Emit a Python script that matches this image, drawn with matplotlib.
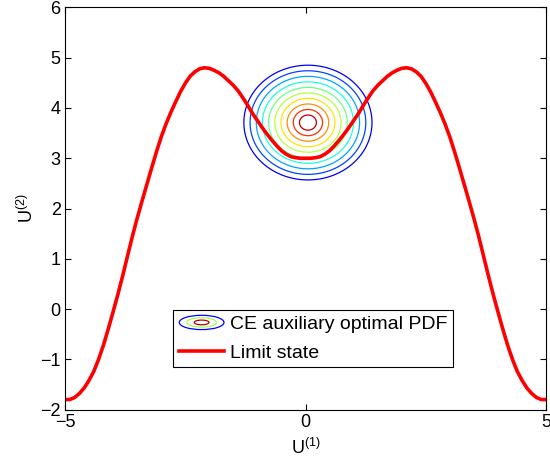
import numpy as np
import matplotlib
matplotlib.use('Agg')
import matplotlib.pyplot as plt
from matplotlib.legend_handler import HandlerBase
from matplotlib.patches import Ellipse
from matplotlib.lines import Line2D

plt.rcParams['font.family'] = ['Liberation Sans', 'DejaVu Sans']
plt.rcParams['mathtext.fontset'] = 'custom'
plt.rcParams['mathtext.rm'] = 'Liberation Sans'
plt.rcParams['mathtext.it'] = 'Liberation Sans'

# limit state curve
u1_limit = [-5.0, -4.9, -4.8, -4.7, -4.6, -4.5, -4.4, -4.3, -4.2, -4.1,
            -4.0, -3.9, -3.8, -3.7, -3.6, -3.5, -3.4, -3.3, -3.2, -3.1,
            -3.0, -2.9, -2.8, -2.7, -2.6, -2.5, -2.4, -2.3, -2.2, -2.1,
            -2.0, -1.9, -1.8, -1.7, -1.6, -1.5, -1.4, -1.3, -1.2, -1.1,
            -1.0, -0.9, -0.8, -0.7, -0.6, -0.5, -0.4, -0.3, -0.2, -0.1,
            0.0, 0.1, 0.2, 0.3, 0.4, 0.5, 0.6, 0.7, 0.8, 0.9,
            1.0, 1.1, 1.2, 1.3, 1.4, 1.5, 1.6, 1.7, 1.8, 1.9,
            2.0, 2.1, 2.2, 2.3, 2.4, 2.5, 2.6, 2.7, 2.8, 2.9,
            3.0, 3.1, 3.2, 3.3, 3.4, 3.5, 3.6, 3.7, 3.8, 3.9,
            4.0, 4.1, 4.2, 4.3, 4.4, 4.5, 4.6, 4.7, 4.8, 4.9, 5.0]
u2_limit = [-1.80, -1.80, -1.76, -1.68, -1.57, -1.42, -1.24, -1.00, -0.72, -0.40,
            -0.06, 0.29, 0.66, 1.05, 1.44, 1.80, 2.14, 2.47, 2.80, 3.12,
            3.42, 3.68, 3.91, 4.12, 4.32, 4.49, 4.63, 4.72, 4.78, 4.80,
            4.79, 4.75, 4.70, 4.63, 4.54, 4.45, 4.34, 4.20, 4.05, 3.89,
            3.75, 3.61, 3.48, 3.36, 3.25, 3.15, 3.08, 3.03, 3.01, 3.00,
            3.00, 3.00, 3.01, 3.03, 3.08, 3.15, 3.25, 3.36, 3.48, 3.61,
            3.75, 3.89, 4.05, 4.20, 4.34, 4.45, 4.54, 4.63, 4.70, 4.75,
            4.79, 4.80, 4.78, 4.72, 4.63, 4.49, 4.32, 4.12, 3.91, 3.68,
            3.42, 3.12, 2.80, 2.47, 2.14, 1.80, 1.44, 1.05, 0.66, 0.29,
            -0.06, -0.40, -0.72, -1.00, -1.24, -1.42, -1.57, -1.68, -1.76, -1.80, -1.80]

# CE auxiliary optimal PDF (gaussian) and its contour levels (fraction of peak)
pdf_mean = [0.05, 3.71]
pdf_std = [0.70, 0.60]
level_frac = [0.164, 0.229, 0.309, 0.402, 0.506, 0.617, 0.726, 0.827, 0.910, 0.969]

legend_labels = ['CE auxiliary optimal PDF', 'Limit state']


class ContourIcon(object):
    pass


class ContourIconHandler(HandlerBase):
    def create_artists(self, legend, orig_handle, xdescent, ydescent,
                       width, height, fontsize, trans):
        cx = width / 2 - xdescent
        cy = height / 2 - ydescent
        cmap = plt.get_cmap('jet')
        out = []
        for s, c in [(1.0, cmap(0.12)), (0.66, cmap(0.55)), (0.33, cmap(0.95))]:
            e = Ellipse((cx, cy), width * s, height * 1.05 * s, fill=False,
                        edgecolor=c, linewidth=0.9, transform=trans)
            out.append(e)
        return out


fig = plt.figure(figsize=(5.5, 4.66), dpi=100)
ax = fig.add_axes([0.118, 0.121, 0.875, 0.863])

g1, g2 = np.meshgrid(np.linspace(-2.5, 2.5, 301), np.linspace(1.0, 6.0, 301))
pdf = np.exp(-0.5 * ((g1 - pdf_mean[0]) / pdf_std[0]) ** 2
             - 0.5 * ((g2 - pdf_mean[1]) / pdf_std[1]) ** 2)
pdf = pdf / (2 * np.pi * pdf_std[0] * pdf_std[1])
peak = pdf.max()
jet = plt.get_cmap('jet')
ring_colors = [jet(v) for v in np.linspace(0.1, 0.95, len(level_frac))]
ax.contour(g1, g2, pdf, levels=[f * peak for f in level_frac],
           colors=ring_colors, linewidths=0.9)

ax.plot(u1_limit, u2_limit, color='red', linewidth=2.6)

ax.set_xlim(-5, 5)
ax.set_ylim(-2, 6)
ax.set_xticks([-5, 0, 5])
ax.set_yticks(range(-2, 7))
ax.tick_params(direction='in', top=True, right=True, length=4, width=0.8,
               labelsize=13, pad=3)
for s in ax.spines.values():
    s.set_linewidth(0.8)

ax.set_xlabel(r'$\mathregular{U^{(1)}}$', fontsize=13, labelpad=5)
ax.set_ylabel(r'$\mathregular{U^{(2)}}$', fontsize=13, labelpad=2)

handles = [ContourIcon(), Line2D([], [], color='red', linewidth=2.6)]
leg = ax.legend(handles, legend_labels, handler_map={ContourIcon: ContourIconHandler()},
                loc='lower center', bbox_to_anchor=(0.516, 0.105), fontsize=14,
                fancybox=False, edgecolor='black', framealpha=1,
                handlelength=2.3, handletextpad=0.3, labelspacing=0.55,
                borderpad=0.3, borderaxespad=0)
leg.get_frame().set_linewidth(0.8)

fig.savefig('out.png', dpi=100)
